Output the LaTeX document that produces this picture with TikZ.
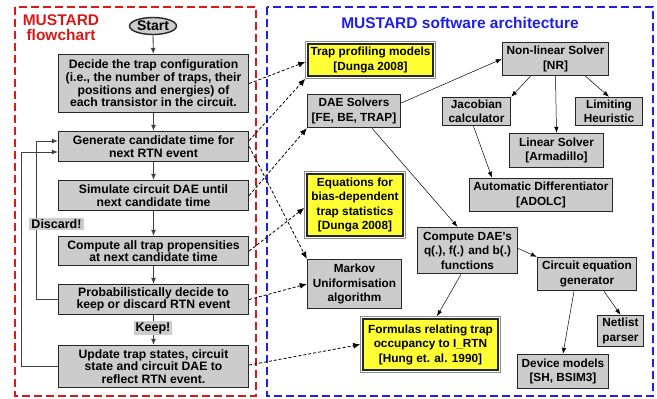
\documentclass[tikz,border=0pt]{standalone}
\usepackage{fontspec}
\setmainfont{Liberation Sans}
\usetikzlibrary{arrows.meta,shapes.geometric}
\definecolor{boxgray}{RGB}{204,204,204}
\definecolor{boxyellow}{RGB}{255,255,51}
\definecolor{tred}{RGB}{215,25,25}
\definecolor{tblue}{RGB}{30,30,235}
\begin{document}
\begin{tikzpicture}[x=1pt,y=-1pt,
  flowbox/.style={draw=black!85, line width=1.4pt, fill=boxgray, minimum width=190pt, align=center, inner sep=1pt, font=\fontsize{12.2}{12.6}\selectfont\bfseries},
  archbox/.style={draw=black!85, line width=1.4pt, fill=boxgray, align=center, inner sep=1pt, font=\fontsize{11.8}{14.5}\selectfont\bfseries},
  ybox/.style={draw=black!45, line width=0.6pt, fill=white, align=center, inner sep=1pt, font=\fontsize{11.8}{14.5}\selectfont\bfseries,
    path picture={\draw[line width=1.4pt, draw=black!85, fill=boxyellow] ([shift={(2.6pt,-2.6pt)}]path picture bounding box.north west) rectangle ([shift={(-2.6pt,2.6pt)}]path picture bounding box.south east);}},
  lbl/.style={fill=boxgray, inner xsep=2pt, inner ysep=1.5pt, font=\fontsize{12.5}{12.6}\selectfont\bfseries},
  flowarr/.style={-{Latex[length=6pt,width=5pt]}, line width=0.8pt, draw=black!75},
  dasharr/.style={-{Latex[length=7pt,width=6pt]}, line width=0.8pt, dash pattern=on 3pt off 2pt},
  solarr/.style={-{Latex[length=6pt,width=4.5pt]}, line width=0.5pt},
  frame/.style={line width=1.8pt, dash pattern=on 8pt off 4pt},
  title/.style={font=\fontsize{15.5}{15}\selectfont\bfseries, align=center}
]
\useasboundingbox (0,0) rectangle (657,399);

% frames
\draw[frame, tred] (15,7) rectangle (256,396);
\draw[frame, tblue] (267,7) rectangle (653,396);
\node[title, text=tred] (ftitle) at (61,28) {MUSTARD\\flowchart};
\node[title, text=tblue] (atitle) at (460,23) {MUSTARD software architecture};

% flowchart
\node[ellipse, draw=black!85, line width=1.4pt, fill=boxgray, minimum width=47pt, minimum height=17pt, inner sep=0pt, font=\fontsize{14}{14}\selectfont\bfseries] (start) at (153,26) {Start};
\node[flowbox, minimum height=58pt] (decide) at (153.5,83.5) {Decide the trap configuration\\(i.e., the number of traps, their\\positions and energies) of\\each transistor in the circuit.};
\node[flowbox, minimum height=30pt] (gen) at (153.5,146.5) {Generate candidate time for\\next RTN event};
\node[flowbox, minimum height=30pt] (sim) at (153.5,195.5) {Simulate circuit DAE until\\next candidate time};
\node[flowbox, minimum height=29pt] (comp) at (153.5,251) {Compute all trap propensities\\at next candidate time};
\node[flowbox, minimum height=30pt] (prob) at (153.5,299.5) {Probabilistically decide to\\keep or discard RTN event};
\node[flowbox, minimum height=42pt] (upd) at (153.5,366.5) {Update trap states, circuit\\state and circuit DAE to\\reflect RTN event.};

\draw[flowarr] (start) -- (decide);
\draw[flowarr] (decide) -- (gen);
\draw[flowarr] (gen) -- (sim);
\draw[flowarr] (sim) -- (comp);
\draw[flowarr] (comp) -- (prob);
\draw[flowarr] (prob) -- (upd);
\node[lbl] (keep) at (153,328) {Keep!};

\draw[flowarr] (prob.west) -- ++(-21,0) |- ([yshift=5.5pt]gen.west);
\draw[flowarr] (upd.west) -- ++(-36,0) |- ([yshift=-5.5pt]gen.west);
\node[lbl] (discard) at (56.5,224) {Discard!};

% architecture
\node[ybox, minimum width=130pt, minimum height=37pt] (tpm) at (370.5,60) {Trap profiling models\\{[}Dunga 2008]};
\node[archbox, minimum width=93pt, minimum height=33pt] (dae) at (354,111) {DAE Solvers\\{[}FE, BE, TRAP]};
\node[ybox, minimum width=101pt, minimum height=67pt] (eqn) at (355,205) {Equations for\\bias-dependent\\trap statistics\\{[}Dunga 2008]};
\node[archbox, minimum width=94pt, minimum height=49pt] (mku) at (354.5,284) {Markov\\Uniformisation\\algorithm};
\node[ybox, minimum width=140pt, minimum height=56pt] (frm) at (430.5,344.5) {Formulas relating trap\\occupancy to I\_RTN\\{[}Hung et. al. 1990]};
\node[archbox, minimum width=106pt, minimum height=33pt] (nls) at (555.5,59) {Non-linear Solver\\{[}NR]};
\node[archbox, minimum width=68pt, minimum height=28pt] (jac) at (476.5,111.5) {Jacobian\\calculator};
\node[archbox, minimum width=67pt, minimum height=28pt] (lim) at (609,111.5) {Limiting\\Heuristic};
\node[archbox, minimum width=94pt, minimum height=34pt] (lin) at (556.5,150.5) {Linear Solver\\{[}Armadillo]};
\node[archbox, minimum width=143pt, minimum height=33pt] (ad) at (541,195) {Automatic Differentiator\\{[}ADOLC]};
\node[archbox, minimum width=100pt, minimum height=46pt] (cdae) at (467.5,250.5) {Compute DAE's\\q(.), f(.) and b(.)\\functions};
\node[archbox, minimum width=99pt, minimum height=33pt] (ceg) at (587,274) {Circuit equation\\generator};
\node[archbox, minimum width=46pt, minimum height=31pt] (net) at (620.5,331) {Netlist\\parser};
\node[archbox, minimum width=91pt, minimum height=34pt] (dev) at (563,371.5) {Device models\\{[}SH, BSIM3]};

% solid connectors
\draw[solarr] ([yshift=8pt]dae.east) -- (nls.west);
\draw[solarr] ([xshift=-25pt]nls.south) -- (jac.north east);
\draw[solarr] (nls.south) -- (lin.north);
\draw[solarr] ([xshift=30pt]nls.south) -- (lim.north);
\draw[solarr] ([xshift=-3pt]jac.south) -- ([xshift=-49pt]ad.north);
\draw[solarr] ([xshift=18pt]dae.south) -- ([xshift=-10pt]cdae.north);
\draw[solarr] ([yshift=2pt]cdae.east) -- (ceg.north west);
\draw[solarr] ([xshift=-6.5pt]cdae.south) -- ([xshift=6.5pt]frm.north);
\draw[solarr] ([xshift=-13pt]ceg.south) -- (dev.north);
\draw[solarr] ([xshift=17pt]ceg.south) -- (net.north);

% dashed connectors
\draw[dasharr] (decide.east) -- ([yshift=-2pt]tpm.west);
\draw[dasharr] ([yshift=6pt]gen.east) -- (tpm.south west);
\draw[dasharr] (gen.east) -- (mku.north west);
\draw[dasharr] (sim.east) -- (dae.south west);
\draw[dasharr] (comp.east) -- ([yshift=-3pt]eqn.west);
\draw[dasharr] (prob.east) -- (mku.west);
\draw[dasharr] ([yshift=1.5pt]upd.east) -- (frm.west);
\end{tikzpicture}
\end{document}
